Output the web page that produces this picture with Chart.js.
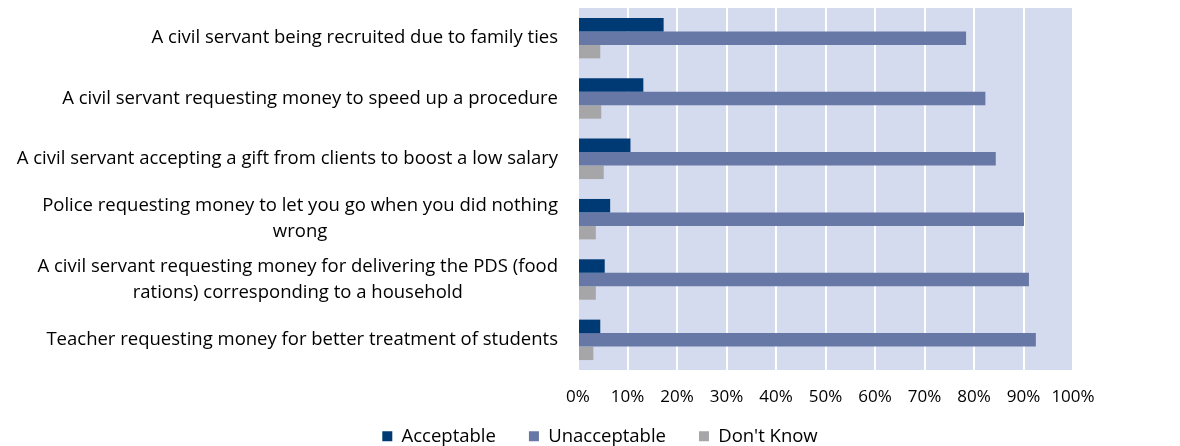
<!DOCTYPE html>
<html>
<head>
<meta charset="utf-8">
<script src="https://cdn.jsdelivr.net/npm/chart.js@4/dist/chart.umd.min.js"></script>
<style>
  html, body { margin: 0; padding: 0; background: #fff; }
  #wrap { width: 1180px; height: 446px; position: relative; }
</style>
</head>
<body>
<div id="wrap"><canvas id="chart"></canvas></div>
<script>
const categories = [
    ['A civil servant being recruited due to family ties'],
    ['A civil servant requesting money to speed up a procedure'],
    ['A civil servant accepting a gift from clients to boost a low salary'],
    ['Police requesting money to let you go when you did nothing', 'wrong'],
    ['A civil servant requesting money for delivering the PDS (food', 'rations) corresponding to a household'],
    ['Teacher requesting money for better treatment of students'],
];
const acceptable = [17.3, 13.2, 10.6, 6.5, 5.4, 4.5];
const unacceptable = [78.4, 82.3, 84.4, 90.1, 91.1, 92.5];
const dontKnow = [4.5, 4.7, 5.2, 3.6, 3.6, 3.1];
const xTicks = [0, 10, 20, 30, 40, 50, 60, 70, 80, 90, 100];

const FONT = '"Open Sans"';
const FONT_SIZE = 18.5;
const PAD_LEFT = 127;
const PLOT_LEFT = 578;

// light lavender plot background
const plotBg = {
    id: 'plotBg',
    beforeDraw(chart) {
        const a = chart.chartArea;
        const c = chart.ctx;
        c.save();
        c.fillStyle = '#d5dbee';
        c.fillRect(a.left, a.top, a.right - a.left, a.bottom - a.top);
        c.restore();
    },
};

// category labels: right-aligned block, wrapped lines centred inside it
const catLabels = {
    id: 'catLabels',
    afterDraw(chart) {
        const y = chart.scales.y;
        const c = chart.ctx;
        const lineH = 26;
        c.save();
        c.font = FONT_SIZE + 'px ' + FONT;
        c.fillStyle = '#000';
        c.textBaseline = 'middle';
        c.textAlign = 'center';
        categories.forEach((lines, i) => {
            const w = Math.max(...lines.map(l => c.measureText(l).width));
            const cx = chart.chartArea.left - 20 - w / 2;
            const cy = y.getPixelForValue(i);
            const y0 = cy - (lines.length - 1) * lineH / 2;
            lines.forEach((l, j) => c.fillText(l, cx, y0 + j * lineH));
        });
        c.restore();
    },
};

new Chart(document.getElementById('chart'), {
    type: 'bar',
    data: {
        labels: categories.map(l => l.join(' ')),
        datasets: [
            { label: 'Acceptable', data: acceptable, backgroundColor: '#003a74' },
            { label: 'Unacceptable', data: unacceptable, backgroundColor: '#6878a6' },
            { label: "Don't Know", data: dontKnow, backgroundColor: '#a6a6a8' },
        ],
    },
    options: {
        indexAxis: 'y',
        responsive: true,
        maintainAspectRatio: false,
        animation: false,
        datasets: { bar: { categoryPercentage: 0.67, barPercentage: 1.0 } },
        layout: { padding: { top: 8, right: 107, left: PAD_LEFT, bottom: 0 } },
        plugins: {
            legend: {
                position: 'bottom',
                maxHeight: 52,
                labels: {
                    color: '#000',
                    boxWidth: 10,
                    boxHeight: 10,
                    padding: 33,
                    font: { family: FONT, size: FONT_SIZE },
                },
            },
            tooltip: { enabled: false },
        },
        scales: {
            x: {
                min: 0,
                max: 100,
                afterBuildTicks: axis => { axis.ticks = xTicks.map(v => ({ value: v })); },
                afterFit: axis => { axis.height = 24; },
                grid: { color: '#ffffff', lineWidth: 2, drawTicks: false },
                border: { display: false },
                ticks: {
                    color: '#000',
                    // mirrored with negative padding: labels sit below the axis without being clipped to it
                    mirror: true,
                    padding: -37,
                    autoSkip: false,
                    maxRotation: 0,
                    minRotation: 0,
                    font: { family: FONT, size: 17 },
                    callback: v => v + '%',
                },
            },
            y: {
                grid: { display: false },
                border: { display: false },
                ticks: { display: false },
                afterFit: axis => { axis.width = PLOT_LEFT - PAD_LEFT; },
            },
        },
    },
    plugins: [plotBg, catLabels],
});
</script>
</body>
</html>
